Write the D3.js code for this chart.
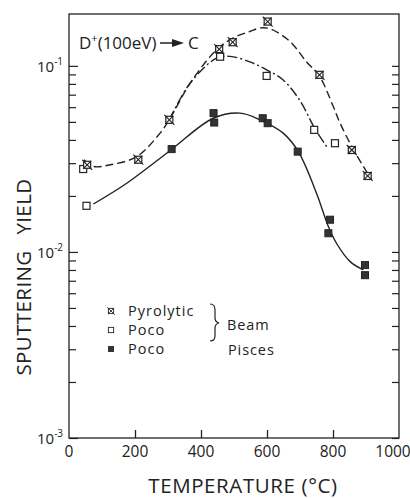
<!DOCTYPE html>
<html><head><meta charset="utf-8">
<script src="https://cdn.jsdelivr.net/npm/d3@7"></script>
<style>
html,body{margin:0;padding:0;background:#fff;}
svg{display:block;font-family:"Open Sans",sans-serif;}
</style></head>
<body><svg id="c" width="410" height="498"></svg>
<script>
// ---- data ----
const xTicks = [0, 200, 400, 600, 800, 1000];
const yMajor = [1e-3, 1e-2, 1e-1];
const yMajorExp = ["-3", "-2", "-1"];

const pyroT = [55, 210, 304, 455, 496, 602, 759, 857, 905];
const pyroY = [0.0294, 0.0313, 0.0513, 0.123, 0.134, 0.173, 0.0895, 0.0353, 0.0256];

const pocoT = [43, 53, 458, 599, 743, 806];
const pocoY = [0.0279, 0.0177, 0.112, 0.0883, 0.0453, 0.0384];

const piscesT = [311, 438, 440, 587, 602, 693, 791, 786, 897, 897];
const piscesY = [0.0357, 0.0557, 0.0496, 0.0523, 0.0492, 0.0346, 0.0149, 0.0126, 0.0085, 0.0075];

// fitted curves
const fitPyroT = [45, 75, 125, 205, 276, 304, 367, 447, 500, 548, 580, 610, 670, 720, 759, 800, 821, 860, 917];
const fitPyroY = [0.0313, 0.0288, 0.0294, 0.0325, 0.0435, 0.0513, 0.0807, 0.122, 0.142, 0.153, 0.16, 0.158, 0.135, 0.105, 0.088, 0.061, 0.0494, 0.036, 0.0244];

const fitPocoT = [304, 367, 447, 488, 548, 600, 649, 700, 745, 781];
const fitPocoY = [0.0513, 0.0807, 0.11, 0.1125, 0.105, 0.095, 0.084, 0.065, 0.046, 0.0368];

const fitPiscesT = [74, 175, 306, 437, 518, 579, 649, 695, 750, 786, 811, 852, 892];
const fitPiscesY = [0.0181, 0.0234, 0.035, 0.0523, 0.0557, 0.0513, 0.0435, 0.0346, 0.0207, 0.0137, 0.0111, 0.00887, 0.008];

// ---- chart ----
const svg = d3.select("#c");
const L = 69, R = 399, T = 14, B = 438;
const x = d3.scaleLinear().domain([0, 1000]).range([L, R]);
const y = d3.scaleLog().domain([1e-3, 0.19]).range([B, T]);
const ink = "#222";

// frame
svg.append("rect").attr("x", L).attr("y", T).attr("width", R - L).attr("height", B - T)
  .attr("fill", "none").attr("stroke", ink).attr("stroke-width", 1.3);

// minor y ticks (left & right)
const minor = [];
[1e-3, 1e-2, 1e-1].forEach(d => { for (let k = 2; k <= 9; k++) { const v = d * k; if (v <= 0.19) minor.push(v); } });
const yAxisL = d3.axisRight(y).tickValues(minor).tickSize(7).tickFormat("");
const gL = svg.append("g").attr("transform", `translate(${L},0)`).call(yAxisL);
const yAxisLM = d3.axisRight(y).tickValues(yMajor).tickSize(9).tickFormat("");
const gLM = svg.append("g").attr("transform", `translate(${L},0)`).call(yAxisLM);
const yAxisR = d3.axisLeft(y).tickValues(minor.concat(yMajor)).tickSize(7).tickFormat("");
const gR = svg.append("g").attr("transform", `translate(${R},0)`).call(yAxisR);
[gL, gLM, gR].forEach(g => { g.select(".domain").remove(); g.selectAll("line").attr("stroke", ink).attr("stroke-width", 1.2); });

// x ticks (inward)
const xAxis = d3.axisTop(x).tickValues([200, 400, 600, 800]).tickSize(8).tickFormat("");
const gX = svg.append("g").attr("transform", `translate(0,${B})`).call(xAxis);
gX.select(".domain").remove();
gX.selectAll("line").attr("stroke", ink).attr("stroke-width", 1.3);

// x tick labels
svg.append("g").selectAll("text").data(xTicks).join("text")
  .attr("x", d => x(d)).attr("y", 457)
  .attr("dx", d => d === 1000 ? -6 : 0)
  .attr("text-anchor", "middle")
  .attr("font-size", 15.5).attr("fill", ink).text(d => d);

// y tick labels
const yl = svg.append("g").selectAll("text").data(yMajor).join("text")
  .attr("x", 37).attr("y", d => y(d) + 6).attr("font-size", 15).attr("fill", ink);
yl.append("tspan").text("10");
yl.append("tspan").attr("dy", -7).attr("font-size", 10).text((d, i) => yMajorExp[i]);

// axis titles
svg.append("text").attr("x", 243).attr("y", 493).attr("text-anchor", "middle")
  .attr("font-size", 20.5).attr("fill", ink).attr("letter-spacing", 0.6).text("TEMPERATURE (°C)");
svg.append("text").attr("transform", "translate(31,277) rotate(-90)").attr("text-anchor", "middle")
  .attr("font-size", 20.5).attr("fill", ink).attr("letter-spacing", 0.4).attr("word-spacing", 10).text("SPUTTERING YIELD");

// curves
const line = d3.line().x(d => x(d[0])).y(d => y(d[1])).curve(d3.curveCatmullRom.alpha(0.5));
svg.append("path").datum(d3.zip(fitPyroT, fitPyroY)).attr("d", line)
  .attr("fill", "none").attr("stroke", ink).attr("stroke-width", 1.4).attr("stroke-dasharray", "8,4");
svg.append("path").datum(d3.zip(fitPocoT, fitPocoY)).attr("d", line)
  .attr("fill", "none").attr("stroke", ink).attr("stroke-width", 1.4).attr("stroke-dasharray", "10,3,2,3");
svg.append("path").datum(d3.zip(fitPiscesT, fitPiscesY)).attr("d", line)
  .attr("fill", "none").attr("stroke", ink).attr("stroke-width", 1.4);

// markers
const S = 7;
function crossSq(g) {
  g.append("rect").attr("x", -S / 2).attr("y", -S / 2).attr("width", S).attr("height", S)
    .attr("fill", "#fff").attr("stroke", ink).attr("stroke-width", 1.2);
  g.append("path").attr("d", "M-5,-5L5,5M-4,4L4,-4").attr("stroke", ink).attr("stroke-width", 1.1);
}
function openSq(g) {
  g.append("rect").attr("x", -S / 2).attr("y", -S / 2).attr("width", S).attr("height", S)
    .attr("fill", "#fff").attr("stroke", ink).attr("stroke-width", 1.2);
}
function fillSq(g) {
  g.append("rect").attr("x", -S / 2).attr("y", -S / 2).attr("width", S).attr("height", S)
    .attr("fill", "#333").attr("stroke", ink).attr("stroke-width", 1);
}
svg.append("g").selectAll("g").data(d3.zip(pocoT, pocoY)).join("g")
  .attr("transform", d => `translate(${x(d[0])},${y(d[1])})`).each(function () { openSq(d3.select(this)); });
svg.append("g").selectAll("g").data(d3.zip(pyroT, pyroY)).join("g")
  .attr("transform", d => `translate(${x(d[0])},${y(d[1])})`).each(function () { crossSq(d3.select(this)); });
svg.append("g").selectAll("g").data(d3.zip(piscesT, piscesY)).join("g")
  .attr("transform", d => `translate(${x(d[0])},${y(d[1])})`).each(function () { fillSq(d3.select(this)); });

// annotation
const ann = svg.append("text").attr("x", 79).attr("y", 49).attr("font-size", 17).attr("fill", ink);
ann.append("tspan").text("D");
ann.append("tspan").attr("dy", -7).attr("font-size", 11).text("+");
ann.append("tspan").attr("dy", 7).text("(100eV)");
svg.append("path").attr("d", "M160,43L178,43").attr("stroke", ink).attr("stroke-width", 1.5);
svg.append("path").attr("d", "M172,39L184,43L172,47Z").attr("fill", ink);
svg.append("text").attr("x", 188).attr("y", 49).attr("font-size", 17).attr("fill", ink).text("C");

// legend
const lg = svg.append("g");
const legItems = [["Pyrolytic", crossSq, 311], ["Poco", openSq, 330], ["Poco", fillSq, 349]];
legItems.forEach(([t, f, yy]) => {
  const g = lg.append("g").attr("transform", `translate(111,${yy}) scale(0.75)`);
  f(g);
  lg.append("text").attr("x", 128).attr("y", yy + 5).attr("font-size", 14.5).attr("letter-spacing", 1)
    .attr("fill", ink).text(t);
});
lg.append("path").attr("d", "M210,304 Q215,304 215,310 L215,318 Q215,322 219,323 Q215,324 215,328 L215,336 Q215,341 210,341")
  .attr("fill", "none").attr("stroke", ink).attr("stroke-width", 1.2);
lg.append("text").attr("x", 227).attr("y", 330).attr("font-size", 14.5).attr("letter-spacing", 0.9).attr("fill", ink).text("Beam");
lg.append("text").attr("x", 228).attr("y", 355).attr("font-size", 14.5).attr("letter-spacing", 0.9).attr("fill", ink).text("Pisces");
</script></body></html>
